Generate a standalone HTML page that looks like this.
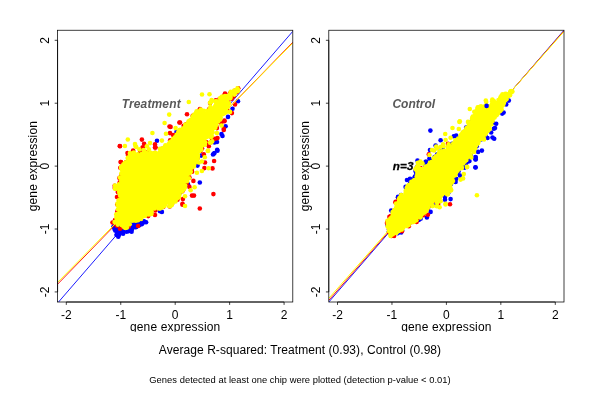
<!DOCTYPE html>
<html><head><meta charset="utf-8"><title>plot</title>
<style>html,body{margin:0;padding:0;background:#fff}svg{display:block;will-change:transform}text{font-family:"Liberation Sans",sans-serif}</style>
</head><body>
<svg width="600" height="400" viewBox="0 0 600 400">
<rect x="0" y="0" width="600" height="400" fill="#fff"/>
<defs>
<clipPath id="cp0"><rect x="57.6" y="30.24" width="235.20" height="271.76"/></clipPath>
<clipPath id="cp1"><rect x="328.8" y="30.24" width="235.20" height="271.76"/></clipPath>
<clipPath id="figclip"><rect x="0" y="0" width="600" height="331.8"/></clipPath>
</defs>
<g clip-path="url(#cp0)">
<polygon points="114.6,226.9 116.2,230.4 116.3,230.6 116.4,230.9 117.2,235.2 118.1,235.0 121.6,233.2 121.8,233.1 121.9,233.1 122.1,233.0 122.3,233.0 127.0,232.4 131.3,230.8 134.7,226.7 134.9,226.6 135.0,226.4 135.2,226.3 135.4,226.2 140.4,223.8 143.1,222.4 135.1,222.0 120.6,223.9" fill="#0000ff"/>
<g fill="#0000ff"><circle cx="113.8" cy="226.5" r="2.3"/><circle cx="114.4" cy="228.7" r="2.3"/><circle cx="115.2" cy="230.4" r="2.3"/><circle cx="116.4" cy="230.9" r="2.3"/><circle cx="116.8" cy="235.0" r="2.3"/><circle cx="118.3" cy="236.8" r="2.3"/><circle cx="116.6" cy="234.8" r="2.3"/><circle cx="119.0" cy="234.8" r="2.3"/><circle cx="119.5" cy="233.7" r="2.3"/><circle cx="123.1" cy="233.8" r="2.3"/><circle cx="126.6" cy="231.8" r="2.3"/><circle cx="128.5" cy="231.1" r="2.3"/><circle cx="130.6" cy="230.3" r="2.3"/><circle cx="131.6" cy="231.7" r="2.3"/><circle cx="132.1" cy="229.1" r="2.3"/><circle cx="135.3" cy="227.3" r="2.3"/><circle cx="136.3" cy="226.9" r="2.3"/><circle cx="138.1" cy="225.3" r="2.3"/><circle cx="139.5" cy="225.3" r="2.3"/><circle cx="142.0" cy="224.1" r="2.3"/><circle cx="143.3" cy="221.9" r="2.3"/><circle cx="144.0" cy="221.2" r="2.3"/><circle cx="143.6" cy="221.9" r="2.3"/><circle cx="146.1" cy="222.3" r="2.3"/><circle cx="144.4" cy="222.1" r="2.3"/><circle cx="141.2" cy="222.7" r="2.3"/><circle cx="137.7" cy="222.1" r="2.3"/><circle cx="136.5" cy="222.1" r="2.3"/><circle cx="133.9" cy="223.1" r="2.3"/><circle cx="131.2" cy="223.5" r="2.3"/><circle cx="129.3" cy="222.0" r="2.3"/><circle cx="128.7" cy="222.2" r="2.3"/><circle cx="125.9" cy="223.0" r="2.3"/><circle cx="124.6" cy="224.3" r="2.3"/><circle cx="121.9" cy="222.8" r="2.3"/><circle cx="120.2" cy="223.5" r="2.3"/><circle cx="116.6" cy="224.8" r="2.3"/><circle cx="116.3" cy="226.4" r="2.3"/><circle cx="113.6" cy="226.8" r="2.3"/></g>
<g fill="#0000ff"><circle cx="157.0" cy="140.7" r="2.3"/><circle cx="176.5" cy="131.9" r="2.3"/><circle cx="238.0" cy="101.2" r="2.3"/><circle cx="232.5" cy="108.8" r="2.3"/><circle cx="228.0" cy="116.9" r="2.3"/><circle cx="225.6" cy="126.2" r="2.3"/><circle cx="221.5" cy="134.0" r="2.3"/><circle cx="222.5" cy="136.0" r="2.3"/><circle cx="214.5" cy="142.5" r="2.3"/><circle cx="217.0" cy="142.0" r="2.3"/><circle cx="217.2" cy="149.8" r="2.3"/><circle cx="213.0" cy="154.5" r="2.3"/><circle cx="214.5" cy="153.0" r="2.3"/><circle cx="201.2" cy="155.6" r="2.3"/><circle cx="197.5" cy="165.6" r="2.3"/><circle cx="199.8" cy="182.5" r="2.3"/><circle cx="188.0" cy="184.4" r="2.3"/><circle cx="180.0" cy="192.5" r="2.3"/><circle cx="213.8" cy="153.8" r="2.3"/><circle cx="217.5" cy="150.8" r="2.3"/><circle cx="160.0" cy="211.2" r="2.3"/><circle cx="161.9" cy="211.9" r="2.3"/></g>
<line x1="57.60" y1="303.10" x2="292.80" y2="31.34" stroke="#0000ff" stroke-width="0.9"/>
<g fill="#ff0000"><circle cx="115.0" cy="220.1" r="2.3"/><circle cx="117.4" cy="213.6" r="2.3"/><circle cx="117.4" cy="211.2" r="2.3"/><circle cx="117.3" cy="204.5" r="2.3"/><circle cx="119.0" cy="196.9" r="2.3"/><circle cx="118.0" cy="192.2" r="2.3"/><circle cx="117.1" cy="189.6" r="2.3"/><circle cx="114.8" cy="187.9" r="2.3"/><circle cx="114.7" cy="185.7" r="2.3"/><circle cx="119.7" cy="182.2" r="2.3"/><circle cx="120.9" cy="176.2" r="2.3"/><circle cx="122.1" cy="168.0" r="2.3"/><circle cx="120.3" cy="167.7" r="2.3"/><circle cx="125.9" cy="162.2" r="2.3"/><circle cx="128.1" cy="155.4" r="2.3"/><circle cx="128.9" cy="156.1" r="2.3"/><circle cx="130.8" cy="154.9" r="2.3"/><circle cx="135.9" cy="155.0" r="2.3"/><circle cx="143.9" cy="154.1" r="2.3"/><circle cx="146.9" cy="152.3" r="2.3"/><circle cx="155.1" cy="152.7" r="2.3"/><circle cx="162.2" cy="148.8" r="2.3"/><circle cx="165.9" cy="146.6" r="2.3"/><circle cx="170.1" cy="140.4" r="2.3"/><circle cx="175.9" cy="134.9" r="2.3"/><circle cx="178.2" cy="133.1" r="2.3"/><circle cx="183.7" cy="125.7" r="2.3"/><circle cx="186.2" cy="124.2" r="2.3"/><circle cx="192.7" cy="115.9" r="2.3"/><circle cx="199.6" cy="110.1" r="2.3"/><circle cx="199.9" cy="109.0" r="2.3"/><circle cx="209.3" cy="109.0" r="2.3"/><circle cx="210.1" cy="103.0" r="2.3"/><circle cx="215.8" cy="100.3" r="2.3"/><circle cx="219.3" cy="99.2" r="2.3"/><circle cx="224.2" cy="95.5" r="2.3"/><circle cx="229.8" cy="93.6" r="2.3"/><circle cx="234.7" cy="90.9" r="2.3"/><circle cx="237.8" cy="90.5" r="2.3"/><circle cx="238.2" cy="88.2" r="2.3"/><circle cx="236.7" cy="92.2" r="2.3"/><circle cx="233.7" cy="96.2" r="2.3"/><circle cx="231.8" cy="98.8" r="2.3"/><circle cx="228.3" cy="102.4" r="2.3"/><circle cx="227.3" cy="109.9" r="2.3"/><circle cx="225.7" cy="110.4" r="2.3"/><circle cx="219.3" cy="120.2" r="2.3"/><circle cx="217.2" cy="122.0" r="2.3"/><circle cx="216.2" cy="125.8" r="2.3"/><circle cx="211.9" cy="138.5" r="2.3"/><circle cx="211.1" cy="142.3" r="2.3"/><circle cx="206.1" cy="142.1" r="2.3"/><circle cx="202.1" cy="148.4" r="2.3"/><circle cx="200.5" cy="150.9" r="2.3"/><circle cx="197.6" cy="158.0" r="2.3"/><circle cx="196.5" cy="162.0" r="2.3"/><circle cx="191.9" cy="169.1" r="2.3"/><circle cx="192.1" cy="171.8" r="2.3"/><circle cx="189.4" cy="177.4" r="2.3"/><circle cx="186.7" cy="183.4" r="2.3"/><circle cx="183.6" cy="189.1" r="2.3"/><circle cx="182.4" cy="191.2" r="2.3"/><circle cx="178.3" cy="197.8" r="2.3"/><circle cx="177.5" cy="199.7" r="2.3"/><circle cx="172.1" cy="203.8" r="2.3"/><circle cx="169.7" cy="206.5" r="2.3"/><circle cx="163.4" cy="206.8" r="2.3"/><circle cx="155.3" cy="210.5" r="2.3"/><circle cx="151.3" cy="213.0" r="2.3"/><circle cx="148.2" cy="216.1" r="2.3"/><circle cx="140.8" cy="218.7" r="2.3"/><circle cx="136.5" cy="220.0" r="2.3"/><circle cx="128.8" cy="225.7" r="2.3"/><circle cx="128.7" cy="226.6" r="2.3"/><circle cx="122.1" cy="227.3" r="2.3"/><circle cx="117.0" cy="225.7" r="2.3"/><circle cx="116.1" cy="224.3" r="2.3"/><circle cx="116.0" cy="221.8" r="2.3"/></g>
<g fill="#ff0000"><circle cx="187.0" cy="114.2" r="2.3"/><circle cx="169.5" cy="126.5" r="2.3"/><circle cx="141.9" cy="139.6" r="2.3"/><circle cx="119.8" cy="146.0" r="2.3"/><circle cx="144.1" cy="143.8" r="2.3"/><circle cx="170.0" cy="133.1" r="2.3"/><circle cx="142.5" cy="147.5" r="2.3"/><circle cx="155.0" cy="144.4" r="2.3"/><circle cx="155.6" cy="147.5" r="2.3"/><circle cx="133.1" cy="150.6" r="2.3"/><circle cx="127.5" cy="153.1" r="2.3"/><circle cx="140.0" cy="152.5" r="2.3"/><circle cx="179.4" cy="122.5" r="2.3"/><circle cx="173.1" cy="135.0" r="2.3"/><circle cx="225.0" cy="93.5" r="2.3"/><circle cx="223.8" cy="99.4" r="2.3"/><circle cx="200.6" cy="114.4" r="2.3"/><circle cx="180.0" cy="122.5" r="2.3"/><circle cx="170.6" cy="126.9" r="2.3"/><circle cx="194.4" cy="120.6" r="2.3"/><circle cx="235.0" cy="104.4" r="2.3"/><circle cx="231.9" cy="113.1" r="2.3"/><circle cx="224.4" cy="120.6" r="2.3"/><circle cx="221.2" cy="123.1" r="2.3"/><circle cx="223.8" cy="128.8" r="2.3"/><circle cx="216.9" cy="128.1" r="2.3"/><circle cx="224.4" cy="121.2" r="2.3"/><circle cx="223.8" cy="130.0" r="2.3"/><circle cx="217.5" cy="138.1" r="2.3"/><circle cx="215.0" cy="138.8" r="2.3"/><circle cx="208.1" cy="143.1" r="2.3"/><circle cx="208.8" cy="146.2" r="2.3"/><circle cx="214.1" cy="161.0" r="2.3"/><circle cx="205.0" cy="162.5" r="2.3"/><circle cx="204.4" cy="168.1" r="2.3"/><circle cx="212.5" cy="168.4" r="2.3"/><circle cx="203.8" cy="154.4" r="2.3"/><circle cx="193.4" cy="180.9" r="2.3"/><circle cx="189.4" cy="186.9" r="2.3"/><circle cx="192.0" cy="195.6" r="2.3"/><circle cx="194.0" cy="195.6" r="2.3"/><circle cx="213.4" cy="194.1" r="2.3"/><circle cx="182.9" cy="199.1" r="2.3"/><circle cx="182.5" cy="204.8" r="2.3"/><circle cx="199.8" cy="208.5" r="2.3"/><circle cx="182.5" cy="203.8" r="2.3"/><circle cx="120.0" cy="146.2" r="2.3"/><circle cx="120.6" cy="162.1" r="2.3"/><circle cx="140.6" cy="152.5" r="2.3"/><circle cx="143.1" cy="147.5" r="2.3"/><circle cx="155.0" cy="147.5" r="2.3"/><circle cx="118.8" cy="188.8" r="2.3"/><circle cx="119.4" cy="178.1" r="2.3"/><circle cx="121.0" cy="162.0" r="2.3"/><circle cx="112.5" cy="222.5" r="2.3"/><circle cx="120.0" cy="228.8" r="2.3"/><circle cx="138.1" cy="226.0" r="2.3"/><circle cx="155.0" cy="215.0" r="2.3"/><circle cx="117.0" cy="197.0" r="2.3"/></g>
<line x1="57.60" y1="284.20" x2="292.80" y2="42.19" stroke="#ff0000" stroke-width="0.9"/>
<polygon points="115.4,221.6 116.1,222.6 117.5,224.6 121.9,226.1 122.1,226.2 125.4,227.7 128.0,226.1 130.2,222.6 130.4,222.5 130.5,222.3 130.6,222.2 130.8,222.1 131.0,222.0 131.2,221.9 139.3,218.7 145.4,216.2 150.6,213.4 153.5,210.0 153.6,209.8 153.7,209.7 153.9,209.6 154.1,209.5 154.2,209.4 154.4,209.3 160.5,207.5 166.6,204.5 166.8,204.4 167.0,204.3 167.2,204.3 167.4,204.3 167.5,204.3 167.7,204.3 167.9,204.3 168.1,204.4 168.3,204.4 170.6,205.4 173.9,202.0 176.9,198.5 179.3,194.9 179.5,194.7 183.4,190.3 185.0,185.6 185.0,185.6 188.7,175.6 188.8,175.4 188.9,175.3 192.0,169.7 194.4,164.3 195.6,160.6 195.7,160.4 198.2,155.4 200.6,149.3 200.7,149.1 200.8,148.9 200.9,148.8 204.5,144.1 205.6,140.6 205.7,140.4 205.8,140.3 205.9,140.1 206.0,139.9 206.1,139.8 206.3,139.7 206.4,139.6 206.6,139.5 210.7,137.4 211.8,132.1 211.8,131.9 211.9,131.7 212.0,131.5 215.8,125.2 215.8,125.1 218.3,121.4 218.4,121.3 222.1,116.4 225.7,110.6 227.6,105.3 229.1,100.9 229.2,100.7 229.3,100.5 231.0,97.7 231.1,97.5 235.7,91.3 233.2,91.9 229.6,93.6 223.6,96.7 219.2,99.9 219.0,100.0 218.9,100.1 218.7,100.2 215.2,101.6 212.8,106.0 212.7,106.1 212.5,106.3 212.4,106.4 207.4,111.4 207.3,111.5 207.1,111.7 206.9,111.8 206.7,111.9 206.6,111.9 206.4,112.0 206.2,112.0 206.0,112.0 205.8,112.0 205.6,112.0 205.4,111.9 200.2,110.2 195.1,113.0 191.7,118.1 191.5,118.4 185.5,124.8 181.5,129.3 176.5,135.3 176.5,135.3 172.5,140.0 172.4,140.2 172.3,140.3 167.4,144.5 164.4,147.4 164.3,147.5 159.8,151.3 159.6,151.5 159.5,151.6 159.3,151.6 159.1,151.7 152.6,153.7 152.4,153.8 152.2,153.8 152.0,153.8 151.8,153.8 146.1,153.2 137.9,154.8 137.7,154.8 137.5,154.8 137.3,154.8 133.8,154.5 130.8,154.9 129.0,156.4 126.7,159.8 124.3,164.4 124.2,164.6 124.1,164.7 121.6,168.1 122.0,172.3 122.0,172.5 122.0,172.6 122.0,172.8 121.9,173.0 120.7,177.8 120.5,182.6 120.5,182.8 120.4,183.0 120.4,183.2 120.3,183.4 120.2,183.6 120.1,183.7 120.0,183.9 119.8,184.0 119.6,184.1 119.5,184.2 116.0,186.2 116.0,187.8 117.6,189.8 117.7,189.9 117.8,190.1 119.8,194.1 119.9,194.3 119.9,194.5 120.0,194.7 120.0,194.9 120.0,195.1 120.0,195.3 119.9,195.5 118.8,200.3 118.2,206.2 118.2,206.2 117.6,211.2 117.6,211.4 116.3,217.9 116.3,217.9" fill="#ffff00"/>
<g fill="#ffff00"><circle cx="114.6" cy="222.0" r="2.3"/><circle cx="116.6" cy="218.6" r="2.3"/><circle cx="116.5" cy="216.8" r="2.3"/><circle cx="116.3" cy="214.2" r="2.3"/><circle cx="118.1" cy="213.5" r="2.3"/><circle cx="117.9" cy="209.2" r="2.3"/><circle cx="119.1" cy="207.0" r="2.3"/><circle cx="117.8" cy="205.3" r="2.3"/><circle cx="117.5" cy="203.6" r="2.3"/><circle cx="119.7" cy="200.5" r="2.3"/><circle cx="118.6" cy="200.4" r="2.3"/><circle cx="120.1" cy="195.7" r="2.3"/><circle cx="119.7" cy="193.6" r="2.3"/><circle cx="119.2" cy="191.8" r="2.3"/><circle cx="116.7" cy="188.7" r="2.3"/><circle cx="116.5" cy="188.1" r="2.3"/><circle cx="116.0" cy="186.4" r="2.3"/><circle cx="116.1" cy="187.2" r="2.3"/><circle cx="119.0" cy="184.3" r="2.3"/><circle cx="121.2" cy="181.0" r="2.3"/><circle cx="119.9" cy="177.6" r="2.3"/><circle cx="121.1" cy="177.8" r="2.3"/><circle cx="121.3" cy="173.6" r="2.3"/><circle cx="121.9" cy="169.9" r="2.3"/><circle cx="121.1" cy="167.8" r="2.3"/><circle cx="121.4" cy="168.0" r="2.3"/><circle cx="123.3" cy="164.5" r="2.3"/><circle cx="124.7" cy="163.1" r="2.3"/><circle cx="126.0" cy="162.2" r="2.3"/><circle cx="127.8" cy="158.4" r="2.3"/><circle cx="128.0" cy="157.6" r="2.3"/><circle cx="130.2" cy="154.8" r="2.3"/><circle cx="131.0" cy="155.0" r="2.3"/><circle cx="133.0" cy="154.0" r="2.3"/><circle cx="134.6" cy="154.7" r="2.3"/><circle cx="136.3" cy="155.7" r="2.3"/><circle cx="137.9" cy="154.3" r="2.3"/><circle cx="142.0" cy="153.7" r="2.3"/><circle cx="143.1" cy="154.4" r="2.3"/><circle cx="145.1" cy="152.3" r="2.3"/><circle cx="147.4" cy="153.2" r="2.3"/><circle cx="149.5" cy="154.1" r="2.3"/><circle cx="150.9" cy="152.7" r="2.3"/><circle cx="153.9" cy="153.4" r="2.3"/><circle cx="155.3" cy="152.7" r="2.3"/><circle cx="159.3" cy="152.7" r="2.3"/><circle cx="160.5" cy="149.8" r="2.3"/><circle cx="162.3" cy="148.5" r="2.3"/><circle cx="163.9" cy="147.7" r="2.3"/><circle cx="165.3" cy="146.6" r="2.3"/><circle cx="165.4" cy="145.2" r="2.3"/><circle cx="168.6" cy="144.2" r="2.3"/><circle cx="169.8" cy="142.4" r="2.3"/><circle cx="171.4" cy="141.4" r="2.3"/><circle cx="173.0" cy="139.0" r="2.3"/><circle cx="174.7" cy="137.5" r="2.3"/><circle cx="175.6" cy="137.2" r="2.3"/><circle cx="176.6" cy="134.9" r="2.3"/><circle cx="178.3" cy="132.1" r="2.3"/><circle cx="179.5" cy="130.6" r="2.3"/><circle cx="180.0" cy="129.9" r="2.3"/><circle cx="183.0" cy="128.9" r="2.3"/><circle cx="183.6" cy="128.4" r="2.3"/><circle cx="185.5" cy="125.5" r="2.3"/><circle cx="185.4" cy="124.5" r="2.3"/><circle cx="188.1" cy="123.3" r="2.3"/><circle cx="188.6" cy="121.3" r="2.3"/><circle cx="190.5" cy="120.0" r="2.3"/><circle cx="192.6" cy="116.8" r="2.3"/><circle cx="193.3" cy="115.7" r="2.3"/><circle cx="194.3" cy="114.5" r="2.3"/><circle cx="195.9" cy="113.3" r="2.3"/><circle cx="196.6" cy="111.2" r="2.3"/><circle cx="200.2" cy="110.8" r="2.3"/><circle cx="200.8" cy="109.6" r="2.3"/><circle cx="201.1" cy="111.5" r="2.3"/><circle cx="203.8" cy="110.8" r="2.3"/><circle cx="207.3" cy="110.8" r="2.3"/><circle cx="210.1" cy="108.5" r="2.3"/><circle cx="210.4" cy="107.0" r="2.3"/><circle cx="210.1" cy="102.7" r="2.3"/><circle cx="210.7" cy="102.2" r="2.3"/><circle cx="211.6" cy="100.1" r="2.3"/><circle cx="215.1" cy="101.3" r="2.3"/><circle cx="216.9" cy="101.3" r="2.3"/><circle cx="220.1" cy="98.2" r="2.3"/><circle cx="220.7" cy="97.8" r="2.3"/><circle cx="222.1" cy="96.6" r="2.3"/><circle cx="225.0" cy="96.1" r="2.3"/><circle cx="226.5" cy="96.3" r="2.3"/><circle cx="229.8" cy="94.5" r="2.3"/><circle cx="230.7" cy="91.9" r="2.3"/><circle cx="232.8" cy="92.8" r="2.3"/><circle cx="234.3" cy="90.6" r="2.3"/><circle cx="236.0" cy="91.2" r="2.3"/><circle cx="237.3" cy="91.3" r="2.3"/><circle cx="238.1" cy="90.4" r="2.3"/><circle cx="237.5" cy="88.2" r="2.3"/><circle cx="237.3" cy="89.9" r="2.3"/><circle cx="235.2" cy="92.1" r="2.3"/><circle cx="234.3" cy="94.6" r="2.3"/><circle cx="230.5" cy="96.7" r="2.3"/><circle cx="230.4" cy="98.1" r="2.3"/><circle cx="229.0" cy="103.3" r="2.3"/><circle cx="227.6" cy="103.7" r="2.3"/><circle cx="227.9" cy="106.8" r="2.3"/><circle cx="226.1" cy="108.8" r="2.3"/><circle cx="226.1" cy="110.8" r="2.3"/><circle cx="226.1" cy="112.0" r="2.3"/><circle cx="224.7" cy="113.2" r="2.3"/><circle cx="222.7" cy="114.3" r="2.3"/><circle cx="220.6" cy="117.5" r="2.3"/><circle cx="220.2" cy="119.4" r="2.3"/><circle cx="218.4" cy="120.9" r="2.3"/><circle cx="217.6" cy="121.8" r="2.3"/><circle cx="216.2" cy="125.0" r="2.3"/><circle cx="215.3" cy="127.7" r="2.3"/><circle cx="214.5" cy="127.7" r="2.3"/><circle cx="212.4" cy="129.1" r="2.3"/><circle cx="212.6" cy="132.4" r="2.3"/><circle cx="211.8" cy="136.0" r="2.3"/><circle cx="211.1" cy="137.0" r="2.3"/><circle cx="212.2" cy="141.4" r="2.3"/><circle cx="211.0" cy="142.3" r="2.3"/><circle cx="210.1" cy="142.7" r="2.3"/><circle cx="205.2" cy="142.3" r="2.3"/><circle cx="204.4" cy="144.2" r="2.3"/><circle cx="204.8" cy="144.7" r="2.3"/><circle cx="201.6" cy="146.3" r="2.3"/><circle cx="200.7" cy="147.8" r="2.3"/><circle cx="201.3" cy="149.8" r="2.3"/><circle cx="199.3" cy="151.2" r="2.3"/><circle cx="198.0" cy="155.4" r="2.3"/><circle cx="197.5" cy="155.3" r="2.3"/><circle cx="197.7" cy="157.7" r="2.3"/><circle cx="197.3" cy="159.3" r="2.3"/><circle cx="196.4" cy="161.7" r="2.3"/><circle cx="194.0" cy="164.1" r="2.3"/><circle cx="194.2" cy="164.7" r="2.3"/><circle cx="193.8" cy="166.4" r="2.3"/><circle cx="191.8" cy="167.6" r="2.3"/><circle cx="190.6" cy="171.3" r="2.3"/><circle cx="190.3" cy="172.6" r="2.3"/><circle cx="188.8" cy="173.6" r="2.3"/><circle cx="188.9" cy="178.2" r="2.3"/><circle cx="186.2" cy="180.2" r="2.3"/><circle cx="187.0" cy="181.2" r="2.3"/><circle cx="185.2" cy="185.6" r="2.3"/><circle cx="184.8" cy="187.5" r="2.3"/><circle cx="184.1" cy="188.8" r="2.3"/><circle cx="182.9" cy="190.1" r="2.3"/><circle cx="181.9" cy="191.4" r="2.3"/><circle cx="179.5" cy="194.6" r="2.3"/><circle cx="178.8" cy="196.3" r="2.3"/><circle cx="176.8" cy="198.4" r="2.3"/><circle cx="176.3" cy="198.8" r="2.3"/><circle cx="175.5" cy="201.4" r="2.3"/><circle cx="172.4" cy="203.0" r="2.3"/><circle cx="172.1" cy="204.0" r="2.3"/><circle cx="170.4" cy="205.9" r="2.3"/><circle cx="171.8" cy="204.9" r="2.3"/><circle cx="170.0" cy="204.2" r="2.3"/><circle cx="165.1" cy="204.3" r="2.3"/><circle cx="164.5" cy="205.9" r="2.3"/><circle cx="162.1" cy="207.5" r="2.3"/><circle cx="159.9" cy="208.6" r="2.3"/><circle cx="158.3" cy="208.2" r="2.3"/><circle cx="154.6" cy="208.4" r="2.3"/><circle cx="151.5" cy="211.4" r="2.3"/><circle cx="151.5" cy="214.0" r="2.3"/><circle cx="149.3" cy="213.8" r="2.3"/><circle cx="148.9" cy="214.4" r="2.3"/><circle cx="145.3" cy="215.8" r="2.3"/><circle cx="143.4" cy="216.3" r="2.3"/><circle cx="141.1" cy="216.9" r="2.3"/><circle cx="141.0" cy="219.0" r="2.3"/><circle cx="138.0" cy="220.2" r="2.3"/><circle cx="135.8" cy="220.7" r="2.3"/><circle cx="133.6" cy="220.3" r="2.3"/><circle cx="132.1" cy="220.8" r="2.3"/><circle cx="129.7" cy="224.2" r="2.3"/><circle cx="128.0" cy="224.5" r="2.3"/><circle cx="126.9" cy="227.6" r="2.3"/><circle cx="125.4" cy="227.9" r="2.3"/><circle cx="124.6" cy="227.3" r="2.3"/><circle cx="123.5" cy="226.5" r="2.3"/><circle cx="121.6" cy="225.0" r="2.3"/><circle cx="117.8" cy="224.6" r="2.3"/><circle cx="117.5" cy="223.1" r="2.3"/><circle cx="116.3" cy="221.7" r="2.3"/></g>
<g fill="#ffff00"><circle cx="202.0" cy="94.5" r="2.3"/><circle cx="209.5" cy="94.2" r="2.3"/><circle cx="188.8" cy="102.0" r="2.3"/><circle cx="169.2" cy="114.6" r="2.3"/><circle cx="164.6" cy="123.0" r="2.3"/><circle cx="152.4" cy="133.0" r="2.3"/><circle cx="127.8" cy="139.5" r="2.3"/><circle cx="124.9" cy="146.0" r="2.3"/><circle cx="135.0" cy="144.0" r="2.3"/><circle cx="161.9" cy="140.6" r="2.3"/><circle cx="166.0" cy="133.8" r="2.3"/><circle cx="175.6" cy="128.1" r="2.3"/><circle cx="150.0" cy="143.1" r="2.3"/><circle cx="135.4" cy="146.0" r="2.3"/><circle cx="130.0" cy="153.1" r="2.3"/><circle cx="115.0" cy="185.6" r="2.3"/><circle cx="115.0" cy="188.8" r="2.3"/><circle cx="121.2" cy="166.9" r="2.3"/><circle cx="230.0" cy="111.9" r="2.3"/><circle cx="221.5" cy="125.6" r="2.3"/><circle cx="216.9" cy="133.1" r="2.3"/><circle cx="207.8" cy="150.6" r="2.3"/><circle cx="204.8" cy="157.2" r="2.3"/><circle cx="198.8" cy="162.5" r="2.3"/><circle cx="208.6" cy="168.3" r="2.3"/><circle cx="201.9" cy="171.0" r="2.3"/><circle cx="196.9" cy="172.8" r="2.3"/><circle cx="194.6" cy="187.2" r="2.3"/><circle cx="190.6" cy="190.2" r="2.3"/><circle cx="185.0" cy="196.2" r="2.3"/><circle cx="178.8" cy="197.5" r="2.3"/><circle cx="185.0" cy="206.0" r="2.3"/><circle cx="169.4" cy="206.2" r="2.3"/><circle cx="201.9" cy="161.5" r="2.3"/><circle cx="208.0" cy="151.0" r="2.3"/><circle cx="136.2" cy="147.0" r="2.3"/><circle cx="139.4" cy="149.4" r="2.3"/><circle cx="143.8" cy="150.0" r="2.3"/><circle cx="146.9" cy="146.2" r="2.3"/><circle cx="148.8" cy="149.4" r="2.3"/><circle cx="160.0" cy="148.8" r="2.3"/><circle cx="133.8" cy="152.5" r="2.3"/><circle cx="130.0" cy="153.8" r="2.3"/></g>
<line x1="57.60" y1="282.37" x2="292.80" y2="43.01" stroke="#ffff00" stroke-width="1.0"/>
</g>
<rect x="57.6" y="30.24" width="235.20" height="271.76" fill="none" stroke="#000" stroke-width="0.75"/>
<path d="M66.31,302.0H284.09M57.6,291.93V40.31" stroke="#000" stroke-width="0.75" fill="none"/>
<path d="M66.31,302.0v2.9 M57.6,291.93h-2.9 M120.76,302.0v2.9 M57.6,229.03h-2.9 M175.20,302.0v2.9 M57.6,166.12h-2.9 M229.64,302.0v2.9 M57.6,103.21h-2.9 M284.09,302.0v2.9 M57.6,40.31h-2.9" stroke="#000" stroke-width="0.75" fill="none"/>
<text x="66.31" y="319" font-size="12" text-anchor="middle">-2</text>
<text transform="translate(48.96,291.93) rotate(-90)" font-size="12" text-anchor="middle">-2</text>
<text x="120.76" y="319" font-size="12" text-anchor="middle">-1</text>
<text transform="translate(48.96,229.03) rotate(-90)" font-size="12" text-anchor="middle">-1</text>
<text x="175.20" y="319" font-size="12" text-anchor="middle">0</text>
<text transform="translate(48.96,166.12) rotate(-90)" font-size="12" text-anchor="middle">0</text>
<text x="229.64" y="319" font-size="12" text-anchor="middle">1</text>
<text transform="translate(48.96,103.21) rotate(-90)" font-size="12" text-anchor="middle">1</text>
<text x="284.09" y="319" font-size="12" text-anchor="middle">2</text>
<text transform="translate(48.96,40.31) rotate(-90)" font-size="12" text-anchor="middle">2</text>
<text x="175.20" y="331.2" font-size="12" text-anchor="middle" letter-spacing="0.16" clip-path="url(#figclip)">gene expression</text>
<text transform="translate(37.44,166.12) rotate(-90)" font-size="12" text-anchor="middle" letter-spacing="0.16">gene expression</text>
<g clip-path="url(#cp1)">
<g fill="#0000ff"><circle cx="391.3" cy="235.8" r="2.3"/><circle cx="388.8" cy="232.1" r="2.3"/><circle cx="389.1" cy="229.6" r="2.3"/><circle cx="387.7" cy="225.6" r="2.3"/><circle cx="389.8" cy="220.0" r="2.3"/><circle cx="392.0" cy="215.8" r="2.3"/><circle cx="393.6" cy="211.3" r="2.3"/><circle cx="397.6" cy="201.6" r="2.3"/><circle cx="398.7" cy="201.0" r="2.3"/><circle cx="401.1" cy="195.0" r="2.3"/><circle cx="406.6" cy="187.6" r="2.3"/><circle cx="410.1" cy="183.3" r="2.3"/><circle cx="414.3" cy="178.3" r="2.3"/><circle cx="414.9" cy="176.6" r="2.3"/><circle cx="415.5" cy="171.0" r="2.3"/><circle cx="417.0" cy="166.7" r="2.3"/><circle cx="419.1" cy="162.4" r="2.3"/><circle cx="425.3" cy="166.4" r="2.3"/><circle cx="431.5" cy="160.5" r="2.3"/><circle cx="434.6" cy="157.0" r="2.3"/><circle cx="437.2" cy="154.2" r="2.3"/><circle cx="440.2" cy="151.8" r="2.3"/><circle cx="448.6" cy="147.6" r="2.3"/><circle cx="452.1" cy="143.8" r="2.3"/><circle cx="457.4" cy="138.6" r="2.3"/><circle cx="463.7" cy="132.0" r="2.3"/><circle cx="485.2" cy="135.4" r="2.3"/><circle cx="480.9" cy="139.4" r="2.3"/><circle cx="476.7" cy="146.3" r="2.3"/><circle cx="473.4" cy="149.0" r="2.3"/><circle cx="470.8" cy="155.3" r="2.3"/><circle cx="467.9" cy="158.1" r="2.3"/><circle cx="464.8" cy="161.1" r="2.3"/><circle cx="463.5" cy="163.4" r="2.3"/><circle cx="458.5" cy="171.4" r="2.3"/><circle cx="457.0" cy="173.2" r="2.3"/><circle cx="452.1" cy="181.0" r="2.3"/><circle cx="451.0" cy="183.9" r="2.3"/><circle cx="449.6" cy="186.8" r="2.3"/><circle cx="447.9" cy="191.0" r="2.3"/><circle cx="448.1" cy="193.3" r="2.3"/><circle cx="444.1" cy="193.4" r="2.3"/><circle cx="438.8" cy="197.1" r="2.3"/><circle cx="435.9" cy="200.1" r="2.3"/><circle cx="437.0" cy="204.8" r="2.3"/><circle cx="432.9" cy="205.0" r="2.3"/><circle cx="428.1" cy="207.7" r="2.3"/><circle cx="423.4" cy="213.2" r="2.3"/><circle cx="420.6" cy="215.8" r="2.3"/><circle cx="418.6" cy="217.8" r="2.3"/><circle cx="414.9" cy="220.0" r="2.3"/><circle cx="408.6" cy="224.6" r="2.3"/><circle cx="402.1" cy="230.4" r="2.3"/><circle cx="400.8" cy="230.2" r="2.3"/><circle cx="397.7" cy="233.3" r="2.3"/><circle cx="392.6" cy="235.7" r="2.3"/></g>
<g fill="#0000ff"><circle cx="486.6" cy="105.9" r="2.3"/><circle cx="506.2" cy="104.4" r="2.3"/><circle cx="508.8" cy="100.6" r="2.3"/><circle cx="502.2" cy="113.6" r="2.3"/><circle cx="503.6" cy="112.6" r="2.3"/><circle cx="496.2" cy="123.8" r="2.3"/><circle cx="495.0" cy="128.0" r="2.3"/><circle cx="493.0" cy="123.0" r="2.3"/><circle cx="471.2" cy="121.9" r="2.3"/><circle cx="466.2" cy="127.5" r="2.3"/><circle cx="480.6" cy="114.4" r="2.3"/><circle cx="430.4" cy="130.6" r="2.3"/><circle cx="440.6" cy="140.2" r="2.3"/><circle cx="456.2" cy="135.6" r="2.3"/><circle cx="453.8" cy="136.2" r="2.3"/><circle cx="435.6" cy="145.6" r="2.3"/><circle cx="430.0" cy="150.0" r="2.3"/><circle cx="429.4" cy="158.8" r="2.3"/><circle cx="425.6" cy="161.9" r="2.3"/><circle cx="442.5" cy="148.0" r="2.3"/><circle cx="493.8" cy="128.8" r="2.3"/><circle cx="491.2" cy="132.5" r="2.3"/><circle cx="492.5" cy="137.5" r="2.3"/><circle cx="486.2" cy="137.5" r="2.3"/><circle cx="481.9" cy="150.6" r="2.3"/><circle cx="478.1" cy="151.9" r="2.3"/><circle cx="475.6" cy="157.5" r="2.3"/><circle cx="475.6" cy="159.4" r="2.3"/><circle cx="468.8" cy="161.2" r="2.3"/><circle cx="466.2" cy="163.1" r="2.3"/><circle cx="475.4" cy="167.2" r="2.3"/><circle cx="464.4" cy="167.5" r="2.3"/><circle cx="407.0" cy="180.0" r="2.3"/><circle cx="410.0" cy="178.8" r="2.3"/><circle cx="426.2" cy="161.9" r="2.3"/><circle cx="417.5" cy="160.6" r="2.3"/><circle cx="416.2" cy="173.0" r="2.3"/><circle cx="398.0" cy="197.2" r="2.3"/><circle cx="405.6" cy="186.9" r="2.3"/><circle cx="445.0" cy="199.8" r="2.3"/><circle cx="450.6" cy="199.1" r="2.3"/><circle cx="445.0" cy="196.9" r="2.3"/><circle cx="430.6" cy="211.9" r="2.3"/><circle cx="426.9" cy="217.5" r="2.3"/><circle cx="420.6" cy="218.8" r="2.3"/><circle cx="418.8" cy="220.0" r="2.3"/><circle cx="401.2" cy="232.5" r="2.3"/><circle cx="391.2" cy="210.6" r="2.3"/><circle cx="398.1" cy="196.9" r="2.3"/><circle cx="475.6" cy="157.0" r="2.3"/><circle cx="475.6" cy="159.2" r="2.3"/><circle cx="475.6" cy="167.5" r="2.3"/><circle cx="469.4" cy="161.0" r="2.3"/><circle cx="466.2" cy="163.1" r="2.3"/><circle cx="464.4" cy="167.5" r="2.3"/><circle cx="460.0" cy="175.6" r="2.3"/><circle cx="456.2" cy="178.8" r="2.3"/><circle cx="455.6" cy="181.9" r="2.3"/><circle cx="494.2" cy="138.8" r="2.3"/><circle cx="487.5" cy="138.0" r="2.3"/></g>
<line x1="328.80" y1="302.00" x2="564.00" y2="30.24" stroke="#0000ff" stroke-width="0.9"/>
<g fill="#ff0000"><circle cx="391.6" cy="236.0" r="2.3"/><circle cx="389.0" cy="232.1" r="2.3"/><circle cx="389.0" cy="229.1" r="2.3"/><circle cx="387.0" cy="223.1" r="2.3"/><circle cx="387.7" cy="221.4" r="2.3"/><circle cx="390.8" cy="216.1" r="2.3"/><circle cx="393.6" cy="212.6" r="2.3"/><circle cx="398.3" cy="201.5" r="2.3"/><circle cx="398.7" cy="199.3" r="2.3"/><circle cx="440.2" cy="196.1" r="2.3"/><circle cx="437.1" cy="199.1" r="2.3"/><circle cx="438.2" cy="204.1" r="2.3"/><circle cx="431.3" cy="205.4" r="2.3"/><circle cx="427.3" cy="208.5" r="2.3"/><circle cx="424.7" cy="212.9" r="2.3"/><circle cx="423.1" cy="215.3" r="2.3"/><circle cx="417.0" cy="219.3" r="2.3"/><circle cx="415.0" cy="220.5" r="2.3"/><circle cx="409.0" cy="224.3" r="2.3"/><circle cx="401.6" cy="230.2" r="2.3"/><circle cx="400.8" cy="230.3" r="2.3"/><circle cx="393.4" cy="234.6" r="2.3"/><circle cx="393.2" cy="235.3" r="2.3"/></g>
<g fill="#ff0000"><circle cx="448.0" cy="143.8" r="2.3"/><circle cx="428.8" cy="154.4" r="2.3"/><circle cx="420.6" cy="168.0" r="2.3"/><circle cx="420.0" cy="168.5" r="2.3"/><circle cx="419.4" cy="175.0" r="2.3"/><circle cx="395.6" cy="202.5" r="2.3"/><circle cx="435.6" cy="201.2" r="2.3"/><circle cx="450.0" cy="204.2" r="2.3"/><circle cx="394.1" cy="236.0" r="2.3"/><circle cx="416.6" cy="221.9" r="2.3"/><circle cx="427.9" cy="214.8" r="2.3"/><circle cx="401.9" cy="231.2" r="2.3"/><circle cx="408.8" cy="226.2" r="2.3"/><circle cx="395.6" cy="201.9" r="2.3"/><circle cx="389.4" cy="216.9" r="2.3"/></g>
<line x1="328.80" y1="300.31" x2="564.00" y2="30.80" stroke="#ff0000" stroke-width="0.9"/>
<polygon points="391.6,234.7 393.1,234.3 397.7,232.1 400.7,229.7 400.7,229.6 405.1,226.4 405.2,226.3 410.2,223.3 415.1,220.3 420.0,216.4 423.5,213.6 425.8,210.1 425.9,210.0 426.1,209.9 426.2,209.7 429.9,206.5 430.1,206.4 430.2,206.3 430.4,206.2 433.4,204.8 434.4,201.9 434.4,201.7 434.5,201.5 434.6,201.4 434.7,201.2 434.8,201.1 435.0,200.9 435.1,200.8 438.6,198.6 440.8,195.1 440.9,195.0 441.0,194.9 441.2,194.8 443.7,192.5 443.8,192.4 444.0,192.3 444.2,192.2 444.4,192.1 444.6,192.1 444.7,192.0 445.0,192.0 445.2,192.0 445.4,192.0 445.6,192.1 445.7,192.1 446.7,192.5 448.2,190.3 450.0,185.5 450.1,185.4 451.9,181.7 453.7,176.8 453.8,176.6 453.9,176.4 457.1,171.4 457.2,171.3 457.3,171.1 457.4,171.0 461.4,167.6 463.1,163.0 463.2,162.8 463.3,162.7 463.4,162.5 463.6,162.3 467.1,158.8 468.2,156.6 468.3,156.4 473.3,148.9 473.4,148.8 480.9,138.8 481.1,138.6 486.0,133.7 489.1,129.2 489.9,125.2 490.0,125.0 490.1,124.8 491.9,120.5 492.0,120.3 492.1,120.1 492.2,120.0 492.3,119.8 495.9,116.2 498.3,112.6 498.4,112.6 501.3,108.4 503.2,104.2 503.3,104.0 505.8,99.6 505.9,99.4 506.0,99.3 509.6,95.1 511.6,91.2 511.5,91.1 511.2,91.0 508.9,93.3 508.8,93.4 508.6,93.5 508.5,93.6 508.3,93.7 508.1,93.8 508.0,93.8 507.8,93.9 503.8,94.4 501.4,96.5 497.7,100.2 497.5,100.3 497.4,100.4 497.2,100.5 497.0,100.6 496.9,100.7 496.7,100.7 496.5,100.7 496.3,100.7 496.1,100.7 495.9,100.7 492.4,100.1 491.0,101.3 489.3,104.7 489.2,104.8 489.1,105.0 488.9,105.1 488.8,105.3 488.6,105.4 488.4,105.5 488.3,105.6 483.8,107.4 483.5,107.5 483.3,107.6 479.6,108.1 477.8,109.8 474.1,114.9 471.7,118.5 469.3,123.0 465.5,129.9 465.4,130.1 465.3,130.2 461.6,135.0 461.4,135.2 451.4,145.2 451.2,145.3 446.2,149.1 446.0,149.2 440.0,152.8 435.2,157.6 430.3,163.7 430.2,163.9 430.0,164.0 429.9,164.2 429.7,164.3 429.5,164.4 423.2,166.9 423.0,166.9 422.8,167.0 422.6,167.0 422.4,167.0 422.2,167.0 422.0,166.9 417.7,165.9 416.1,169.5 416.9,172.5 417.0,172.6 417.0,172.8 417.0,173.0 417.0,173.2 417.0,173.4 416.9,173.5 415.7,178.0 415.6,178.2 415.5,178.4 415.4,178.6 415.3,178.8 411.5,183.2 411.5,183.2 407.9,187.4 405.5,192.1 405.4,192.3 405.3,192.5 405.2,192.7 401.6,196.3 398.6,201.0 395.6,207.1 393.1,213.2 393.0,213.4 390.5,218.4 390.5,218.5 390.4,218.7 387.6,222.5 387.6,225.9 389.3,230.4 391.1,234.0" fill="#ffff00"/>
<g fill="#ffff00"><circle cx="390.3" cy="234.5" r="2.3"/><circle cx="391.9" cy="233.6" r="2.3"/><circle cx="389.0" cy="230.9" r="2.3"/><circle cx="389.1" cy="228.7" r="2.3"/><circle cx="387.6" cy="226.6" r="2.3"/><circle cx="388.3" cy="225.0" r="2.3"/><circle cx="387.8" cy="223.1" r="2.3"/><circle cx="387.5" cy="220.8" r="2.3"/><circle cx="390.2" cy="218.7" r="2.3"/><circle cx="391.3" cy="217.8" r="2.3"/><circle cx="392.2" cy="217.1" r="2.3"/><circle cx="392.9" cy="214.4" r="2.3"/><circle cx="392.6" cy="212.1" r="2.3"/><circle cx="394.2" cy="210.0" r="2.3"/><circle cx="395.9" cy="208.9" r="2.3"/><circle cx="396.5" cy="206.8" r="2.3"/><circle cx="396.1" cy="203.5" r="2.3"/><circle cx="398.9" cy="201.9" r="2.3"/><circle cx="399.0" cy="199.2" r="2.3"/><circle cx="399.6" cy="197.7" r="2.3"/><circle cx="400.9" cy="196.1" r="2.3"/><circle cx="401.3" cy="195.0" r="2.3"/><circle cx="405.6" cy="193.2" r="2.3"/><circle cx="405.7" cy="190.7" r="2.3"/><circle cx="406.7" cy="189.7" r="2.3"/><circle cx="406.8" cy="187.6" r="2.3"/><circle cx="407.8" cy="186.3" r="2.3"/><circle cx="408.8" cy="185.0" r="2.3"/><circle cx="411.4" cy="183.4" r="2.3"/><circle cx="411.5" cy="181.8" r="2.3"/><circle cx="413.7" cy="180.7" r="2.3"/><circle cx="414.5" cy="180.1" r="2.3"/><circle cx="416.7" cy="176.6" r="2.3"/><circle cx="417.3" cy="173.9" r="2.3"/><circle cx="416.8" cy="170.7" r="2.3"/><circle cx="415.5" cy="169.1" r="2.3"/><circle cx="416.2" cy="169.2" r="2.3"/><circle cx="417.0" cy="166.8" r="2.3"/><circle cx="418.3" cy="165.9" r="2.3"/><circle cx="417.8" cy="162.7" r="2.3"/><circle cx="420.4" cy="161.6" r="2.3"/><circle cx="422.5" cy="163.5" r="2.3"/><circle cx="425.4" cy="166.7" r="2.3"/><circle cx="427.2" cy="166.2" r="2.3"/><circle cx="428.9" cy="165.0" r="2.3"/><circle cx="429.9" cy="162.9" r="2.3"/><circle cx="431.6" cy="162.0" r="2.3"/><circle cx="434.3" cy="159.6" r="2.3"/><circle cx="433.7" cy="158.2" r="2.3"/><circle cx="435.5" cy="156.6" r="2.3"/><circle cx="437.1" cy="156.1" r="2.3"/><circle cx="438.5" cy="153.8" r="2.3"/><circle cx="439.4" cy="152.0" r="2.3"/><circle cx="441.6" cy="151.2" r="2.3"/><circle cx="444.2" cy="150.8" r="2.3"/><circle cx="448.0" cy="148.6" r="2.3"/><circle cx="447.9" cy="147.3" r="2.3"/><circle cx="450.7" cy="146.8" r="2.3"/><circle cx="453.5" cy="144.0" r="2.3"/><circle cx="453.3" cy="143.6" r="2.3"/><circle cx="455.4" cy="140.4" r="2.3"/><circle cx="456.8" cy="140.2" r="2.3"/><circle cx="458.2" cy="138.5" r="2.3"/><circle cx="460.6" cy="135.2" r="2.3"/><circle cx="462.2" cy="133.2" r="2.3"/><circle cx="463.5" cy="131.7" r="2.3"/><circle cx="465.1" cy="131.4" r="2.3"/><circle cx="466.4" cy="128.9" r="2.3"/><circle cx="466.6" cy="128.0" r="2.3"/><circle cx="468.9" cy="125.3" r="2.3"/><circle cx="469.0" cy="123.8" r="2.3"/><circle cx="470.5" cy="122.2" r="2.3"/><circle cx="472.1" cy="118.8" r="2.3"/><circle cx="472.5" cy="117.5" r="2.3"/><circle cx="472.8" cy="116.6" r="2.3"/><circle cx="475.0" cy="115.2" r="2.3"/><circle cx="476.0" cy="113.5" r="2.3"/><circle cx="476.5" cy="111.1" r="2.3"/><circle cx="477.5" cy="108.6" r="2.3"/><circle cx="479.3" cy="107.0" r="2.3"/><circle cx="479.6" cy="108.2" r="2.3"/><circle cx="481.7" cy="107.6" r="2.3"/><circle cx="484.9" cy="106.2" r="2.3"/><circle cx="487.8" cy="106.3" r="2.3"/><circle cx="486.2" cy="102.1" r="2.3"/><circle cx="485.8" cy="100.5" r="2.3"/><circle cx="492.2" cy="101.3" r="2.3"/><circle cx="493.1" cy="100.7" r="2.3"/><circle cx="493.8" cy="101.0" r="2.3"/><circle cx="498.5" cy="100.1" r="2.3"/><circle cx="500.5" cy="97.3" r="2.3"/><circle cx="501.5" cy="95.9" r="2.3"/><circle cx="502.5" cy="94.3" r="2.3"/><circle cx="505.4" cy="93.7" r="2.3"/><circle cx="506.5" cy="94.0" r="2.3"/><circle cx="510.5" cy="93.0" r="2.3"/><circle cx="511.1" cy="91.0" r="2.3"/><circle cx="510.3" cy="91.6" r="2.3"/><circle cx="511.5" cy="91.7" r="2.3"/><circle cx="512.4" cy="91.6" r="2.3"/><circle cx="510.3" cy="92.9" r="2.3"/><circle cx="509.3" cy="95.2" r="2.3"/><circle cx="510.0" cy="95.3" r="2.3"/><circle cx="508.1" cy="96.3" r="2.3"/><circle cx="506.5" cy="99.3" r="2.3"/><circle cx="505.7" cy="99.6" r="2.3"/><circle cx="504.0" cy="102.7" r="2.3"/><circle cx="503.2" cy="104.7" r="2.3"/><circle cx="501.7" cy="106.4" r="2.3"/><circle cx="501.6" cy="109.6" r="2.3"/><circle cx="500.2" cy="110.9" r="2.3"/><circle cx="498.3" cy="113.1" r="2.3"/><circle cx="496.6" cy="115.2" r="2.3"/><circle cx="494.6" cy="117.4" r="2.3"/><circle cx="493.5" cy="117.7" r="2.3"/><circle cx="492.6" cy="120.9" r="2.3"/><circle cx="491.3" cy="124.4" r="2.3"/><circle cx="488.7" cy="126.5" r="2.3"/><circle cx="489.8" cy="129.0" r="2.3"/><circle cx="488.6" cy="130.1" r="2.3"/><circle cx="487.7" cy="131.1" r="2.3"/><circle cx="485.7" cy="133.3" r="2.3"/><circle cx="485.2" cy="134.5" r="2.3"/><circle cx="483.3" cy="137.3" r="2.3"/><circle cx="481.7" cy="139.0" r="2.3"/><circle cx="480.1" cy="139.0" r="2.3"/><circle cx="478.7" cy="141.0" r="2.3"/><circle cx="478.2" cy="143.1" r="2.3"/><circle cx="476.2" cy="145.5" r="2.3"/><circle cx="474.2" cy="146.4" r="2.3"/><circle cx="475.1" cy="148.4" r="2.3"/><circle cx="473.0" cy="149.1" r="2.3"/><circle cx="471.3" cy="150.4" r="2.3"/><circle cx="470.6" cy="154.9" r="2.3"/><circle cx="468.2" cy="155.3" r="2.3"/><circle cx="467.4" cy="157.1" r="2.3"/><circle cx="466.4" cy="160.1" r="2.3"/><circle cx="464.7" cy="161.4" r="2.3"/><circle cx="463.2" cy="163.4" r="2.3"/><circle cx="461.8" cy="168.1" r="2.3"/><circle cx="461.7" cy="167.4" r="2.3"/><circle cx="459.0" cy="169.0" r="2.3"/><circle cx="457.6" cy="170.8" r="2.3"/><circle cx="456.2" cy="172.5" r="2.3"/><circle cx="455.5" cy="175.1" r="2.3"/><circle cx="453.8" cy="175.4" r="2.3"/><circle cx="452.4" cy="177.6" r="2.3"/><circle cx="453.0" cy="181.1" r="2.3"/><circle cx="451.9" cy="182.0" r="2.3"/><circle cx="450.5" cy="184.3" r="2.3"/><circle cx="450.3" cy="187.7" r="2.3"/><circle cx="448.4" cy="189.8" r="2.3"/><circle cx="446.9" cy="191.8" r="2.3"/><circle cx="446.5" cy="193.6" r="2.3"/><circle cx="446.0" cy="193.1" r="2.3"/><circle cx="443.6" cy="193.0" r="2.3"/><circle cx="442.2" cy="194.4" r="2.3"/><circle cx="439.9" cy="197.2" r="2.3"/><circle cx="439.6" cy="197.0" r="2.3"/><circle cx="438.0" cy="199.9" r="2.3"/><circle cx="436.2" cy="201.0" r="2.3"/><circle cx="437.2" cy="202.9" r="2.3"/><circle cx="436.8" cy="206.3" r="2.3"/><circle cx="432.8" cy="206.0" r="2.3"/><circle cx="432.4" cy="206.0" r="2.3"/><circle cx="428.1" cy="207.3" r="2.3"/><circle cx="426.8" cy="209.5" r="2.3"/><circle cx="426.2" cy="210.9" r="2.3"/><circle cx="424.7" cy="212.4" r="2.3"/><circle cx="422.6" cy="213.7" r="2.3"/><circle cx="420.8" cy="215.8" r="2.3"/><circle cx="420.3" cy="217.5" r="2.3"/><circle cx="417.6" cy="217.0" r="2.3"/><circle cx="416.3" cy="220.3" r="2.3"/><circle cx="414.4" cy="221.4" r="2.3"/><circle cx="412.9" cy="222.1" r="2.3"/><circle cx="411.1" cy="222.2" r="2.3"/><circle cx="408.9" cy="223.0" r="2.3"/><circle cx="408.7" cy="224.9" r="2.3"/><circle cx="406.9" cy="226.0" r="2.3"/><circle cx="403.3" cy="227.6" r="2.3"/><circle cx="401.8" cy="229.6" r="2.3"/><circle cx="398.9" cy="230.2" r="2.3"/><circle cx="398.7" cy="231.0" r="2.3"/><circle cx="396.9" cy="232.0" r="2.3"/><circle cx="396.2" cy="233.0" r="2.3"/><circle cx="392.8" cy="234.2" r="2.3"/><circle cx="391.6" cy="234.4" r="2.3"/></g>
<g fill="#ffff00"><circle cx="459.8" cy="121.2" r="2.3"/><circle cx="452.5" cy="128.0" r="2.3"/><circle cx="469.8" cy="109.0" r="2.3"/><circle cx="459.4" cy="121.9" r="2.3"/><circle cx="468.0" cy="121.9" r="2.3"/><circle cx="458.8" cy="129.0" r="2.3"/><circle cx="445.2" cy="134.0" r="2.3"/><circle cx="450.6" cy="137.8" r="2.3"/><circle cx="445.6" cy="140.0" r="2.3"/><circle cx="443.1" cy="144.4" r="2.3"/><circle cx="436.2" cy="146.5" r="2.3"/><circle cx="431.9" cy="150.0" r="2.3"/><circle cx="421.9" cy="163.1" r="2.3"/><circle cx="484.1" cy="139.4" r="2.3"/><circle cx="474.0" cy="151.9" r="2.3"/><circle cx="471.2" cy="157.5" r="2.3"/><circle cx="466.9" cy="166.9" r="2.3"/><circle cx="445.6" cy="204.4" r="2.3"/><circle cx="439.6" cy="207.2" r="2.3"/><circle cx="448.0" cy="193.8" r="2.3"/><circle cx="451.2" cy="190.0" r="2.3"/><circle cx="390.6" cy="236.0" r="2.3"/><circle cx="467.2" cy="167.1" r="2.3"/><circle cx="463.8" cy="174.1" r="2.3"/><circle cx="460.6" cy="179.6" r="2.3"/><circle cx="463.1" cy="178.4" r="2.3"/><circle cx="476.9" cy="195.2" r="2.3"/><circle cx="450.6" cy="190.6" r="2.3"/><circle cx="447.5" cy="194.4" r="2.3"/><circle cx="445.6" cy="203.8" r="2.3"/><circle cx="440.6" cy="201.2" r="2.3"/><circle cx="448.7" cy="144.4" r="2.3"/><circle cx="429.5" cy="155.0" r="2.3"/><circle cx="474.3" cy="111.7" r="2.3"/><circle cx="477.7" cy="107.4" r="2.3"/><circle cx="481.0" cy="106.2" r="2.3"/><circle cx="492.3" cy="99.5" r="2.3"/><circle cx="434.0" cy="150.5" r="2.3"/><circle cx="437.0" cy="148.5" r="2.3"/><circle cx="440.5" cy="147.0" r="2.3"/><circle cx="443.5" cy="146.3" r="2.3"/></g>
<g fill="#0000ff"><circle cx="486.6" cy="105.9" r="2.3"/></g>
<line x1="328.80" y1="298.29" x2="564.00" y2="31.50" stroke="#ffff00" stroke-width="1.0"/>
</g>
<rect x="328.8" y="30.24" width="235.20" height="271.76" fill="none" stroke="#000" stroke-width="0.75"/>
<path d="M337.51,302.0H555.29M328.8,291.93V40.31" stroke="#000" stroke-width="0.75" fill="none"/>
<path d="M337.51,302.0v2.9 M328.8,291.93h-2.9 M391.96,302.0v2.9 M328.8,229.03h-2.9 M446.40,302.0v2.9 M328.8,166.12h-2.9 M500.84,302.0v2.9 M328.8,103.21h-2.9 M555.29,302.0v2.9 M328.8,40.31h-2.9" stroke="#000" stroke-width="0.75" fill="none"/>
<text x="337.51" y="319" font-size="12" text-anchor="middle">-2</text>
<text transform="translate(320.16,291.93) rotate(-90)" font-size="12" text-anchor="middle">-2</text>
<text x="391.96" y="319" font-size="12" text-anchor="middle">-1</text>
<text transform="translate(320.16,229.03) rotate(-90)" font-size="12" text-anchor="middle">-1</text>
<text x="446.40" y="319" font-size="12" text-anchor="middle">0</text>
<text transform="translate(320.16,166.12) rotate(-90)" font-size="12" text-anchor="middle">0</text>
<text x="500.84" y="319" font-size="12" text-anchor="middle">1</text>
<text transform="translate(320.16,103.21) rotate(-90)" font-size="12" text-anchor="middle">1</text>
<text x="555.29" y="319" font-size="12" text-anchor="middle">2</text>
<text transform="translate(320.16,40.31) rotate(-90)" font-size="12" text-anchor="middle">2</text>
<text x="446.40" y="331.2" font-size="12" text-anchor="middle" letter-spacing="0.16" clip-path="url(#figclip)">gene expression</text>
<text transform="translate(308.64,166.12) rotate(-90)" font-size="12" text-anchor="middle" letter-spacing="0.16">gene expression</text>
<text x="121.66" y="108.3" font-size="12" font-weight="bold" font-style="italic" fill="#585858" letter-spacing="0.15">Treatment</text>
<text x="392.46" y="108.3" font-size="12" font-weight="bold" font-style="italic" fill="#585858">Control</text>
<text transform="translate(392.66,169.85) scale(1.17,1)" font-size="10" font-weight="bold" font-style="italic" fill="#000" stroke="#000" stroke-width="0.25" letter-spacing="0.2">n=3</text>
<text x="300" y="353.5" font-size="12" text-anchor="middle" letter-spacing="0.06">Average R-squared: Treatment (0.93), Control (0.98)</text>
<text x="300" y="383" font-size="9.4" text-anchor="middle" letter-spacing="0.02">Genes detected at least one chip were plotted (detection p-value &lt; 0.01)</text>
</svg></body></html>
